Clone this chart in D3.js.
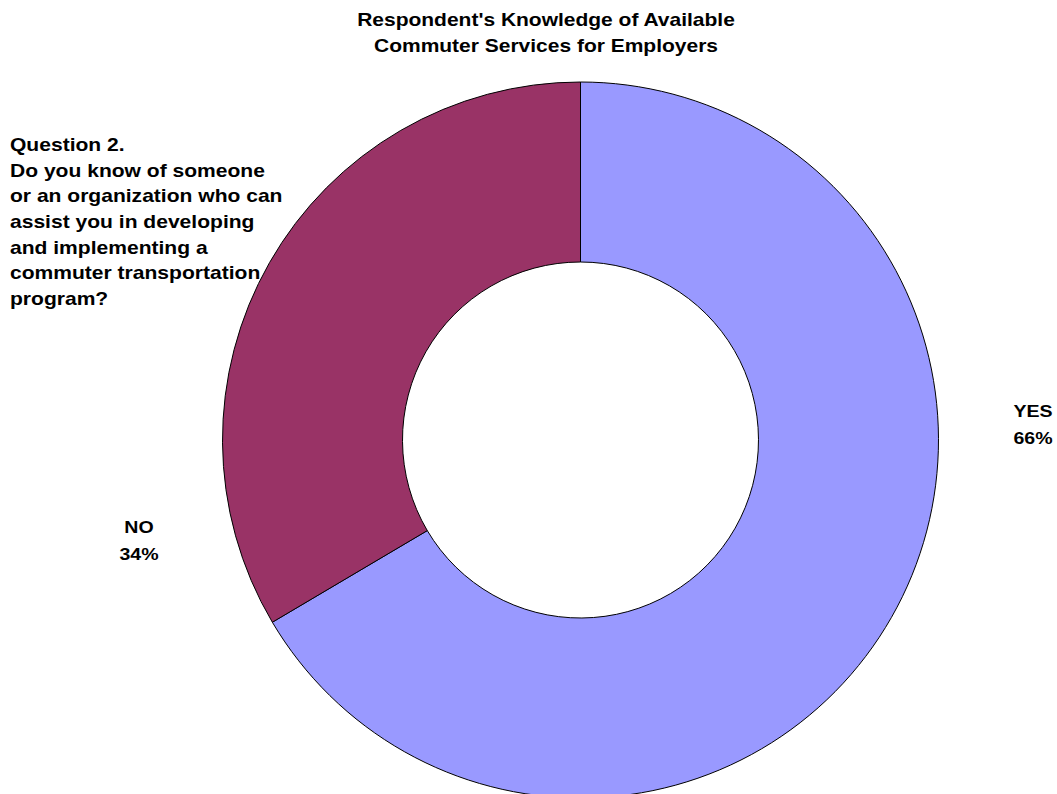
<!DOCTYPE html>
<html>
<head>
<meta charset="utf-8">
<script src="https://cdn.jsdelivr.net/npm/d3@7"></script>
<style>
  body { margin: 0; background: #fff; }
  text { font-family: "Liberation Sans", Arial, sans-serif; font-weight: bold; fill: #000; }
</style>
</head>
<body>
<svg id="chart" width="1057" height="794"></svg>
<script>
const categories = ["YES", "NO"];
const values = [66.5, 33.5];
const pctLabels = ["66%", "34%"];
const colors = ["#9999FF", "#993366"];
const titleLines = ["Respondent's Knowledge of Available", "Commuter Services for Employers"];
const questionLines = [
  "Question 2.",
  "Do you know of someone",
  "or an organization who can",
  "assist you in developing",
  "and implementing a",
  "commuter transportation",
  "program?"
];

const width = 1057, height = 794;
const cx = 580.5, cy = 440, outerR = 358, innerR = 178;

const svg = d3.select("#chart");

const pie = d3.pie().sort(null).value(d => d.value);
const arc = d3.arc().innerRadius(innerR).outerRadius(outerR);

const data = categories.map((c, i) => ({ name: c, value: values[i], label: pctLabels[i], color: colors[i] }));

const g = svg.append("g").attr("transform", `translate(${cx},${cy})`);

g.selectAll("path")
  .data(pie(data))
  .enter().append("path")
  .attr("d", arc)
  .attr("fill", d => d.data.color)
  .attr("stroke", "#000")
  .attr("stroke-width", 1);

// title (source font renders a bit wider, so stretch horizontally)
svg.append("g")
  .attr("transform", "translate(546,0) scale(1.2,1)")
  .selectAll("text")
  .data(titleLines)
  .enter().append("text")
  .attr("x", 0)
  .attr("y", (d, i) => 26.5 + i * 26)
  .attr("text-anchor", "middle")
  .style("font-size", "17.5px")
  .text(d => d);

// question text, drawn over the ring
svg.append("g")
  .attr("transform", "translate(10,0) scale(1.17,1)")
  .selectAll("text")
  .data(questionLines)
  .enter().append("text")
  .attr("x", 0)
  .attr("y", (d, i) => 151 + i * 25.7)
  .style("font-size", "18px")
  .text(d => d);

// slice labels
const labelPos = { YES: [1033, 417], NO: [139, 533] };
data.forEach(d => {
  const p = labelPos[d.name];
  const t = svg.append("g")
    .attr("transform", `translate(${p[0]},${p[1]}) scale(1.15,1)`)
    .append("text")
    .attr("text-anchor", "middle")
    .style("font-size", "17px");
  t.append("tspan").attr("x", 0).attr("y", 0).text(d.name);
  t.append("tspan").attr("x", 0).attr("y", 27.5).text(d.label);
});
</script>
</body>
</html>
